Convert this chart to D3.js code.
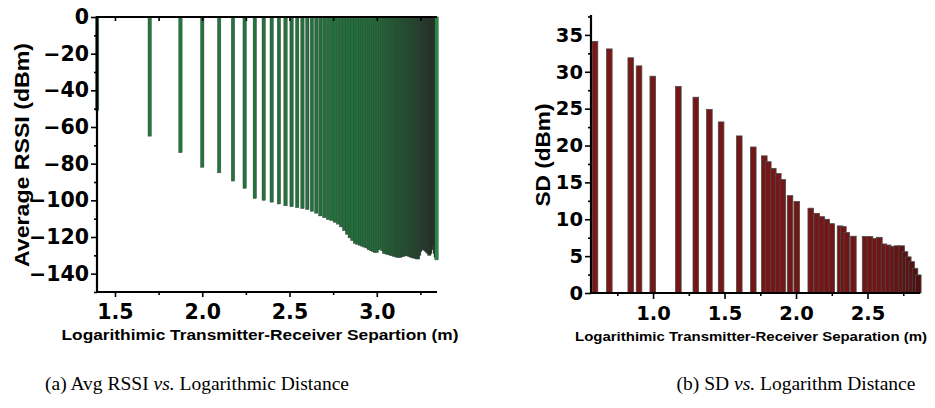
<!DOCTYPE html>
<html>
<head>
<meta charset="utf-8">
<script src="https://cdn.jsdelivr.net/npm/d3@7"></script>
<style>
  body { margin: 0; background: #fff; }
  svg { display: block; }
  .tk text { font-family: "DejaVu Sans", sans-serif; font-weight: bold; fill: #000; }
  .tk line { stroke: #000; stroke-width: 1.6; }
  .tk path { display: none; }
  .ttl { font-family: "Liberation Sans", Arial, sans-serif; font-weight: bold; }
</style>
</head>
<body>
<svg id="fig" width="935" height="408"></svg>
<script>
// (a) separation distances (m) and average RSSI (dBm)
var rssiDist = [25,50,75,100,125,150,175,200,225,250,275,300,325,350,375,400,425,450,475,500,
  525,550,575,600,625,650,675,700,725,750,775,800,825,850,875,900,925,950,975,1000,
  1025,1050,1075,1100,1125,1150,1175,1200,1225,1250,1275,1300,1325,1350,1375,1400,1425,1450,1475,1500,
  1525,1550,1575,1600,1625,1650,1675,1700,1725,1750,1775,1800,1825,1850,1875,1900,1925,1950,1975,2000,
  2025,2050,2075,2100,2125,2150,2175,2200];
var rssiVal = [-51,-65,-74,-82,-85,-89.5,-93.5,-99,-100,-101,-102,-103,-103.5,-104,-104.5,-105,-106,-107,-108.5,-109.5,
  -110.5,-111,-112,-113,-114.5,-116.5,-118.5,-120.5,-122,-123.5,-124,-124.5,-125,-125.5,-126,-127,-127.5,-128,-128.5,-128.5,
  -127,-126,-127.5,-129,-129,-129.5,-129.5,-130,-130,-130.5,-130.5,-131,-131,-131,-131,-130.5,-130.5,-130,-130,-130,
  -130.5,-130.5,-131,-131,-131.5,-131.5,-131.5,-132,-132,-130,-128,-127,-126.5,-127,-127,-127.5,-128,-128.5,-129,-130,
  -129,-127,-124,-122,-125,-129,-131,-132.5];
var rssiTicksX = [1.5, 2.0, 2.5, 3.0];
var rssiTicksY = [0, -20, -40, -60, -80, -100, -120, -140];

// (b) log separation and standard deviation (dBm)
var sdLogDist = [0.594,0.694,0.844,0.902,0.998,1.177,1.299,1.394,1.476,1.603,1.701,1.778,1.806,1.841,1.876,1.907,1.958,2.005,
  2.103,2.145,2.180,2.215,2.250,2.308,2.331,2.355,2.401,2.483,2.517,2.552,2.583,2.615,2.645,2.676,2.704,2.739,2.762,2.785,2.809,2.832,2.855];
var sdVal = [34.1,33.1,31.9,30.8,29.4,28.0,26.55,24.9,23.2,21.3,19.8,18.6,17.8,16.9,16.2,15.4,13.2,12.4,
  11.5,10.8,10.35,10.0,9.4,9.1,9.0,8.2,7.7,7.65,7.65,7.4,7.55,6.65,6.5,6.3,6.4,6.4,5.6,4.9,4.25,3.35,2.45];
var sdTicksX = [1.0, 1.5, 2.0, 2.5];
var sdTicksY = [0, 5, 10, 15, 20, 25, 30, 35];

var svg = d3.select("#fig");

// ---------- (a) ----------
var xL = d3.scaleLinear().domain([1.397, 3.345]).range([97, 437]);
var yL = d3.scaleLinear().domain([-150, 0]).range([292, 17]);
var colL = d3.scaleLinear().domain([1.4, 3.0, 3.2, 3.33])
  .range(["#237a3f", "#216f3a", "#1e4f2c", "#1a2b1f"]);

var gA = svg.append("g");
var rssi = rssiDist.map(function(d, i) { return { x: Math.log10(d), v: rssiVal[i], i: i }; });

gA.selectAll("rect.bar").data(rssi).enter().append("rect")
  .attr("class", "bar")
  .attr("x", function(d) { return xL(d.x) - 1.7; })
  .attr("width", 3.4)
  .attr("y", yL(0))
  .attr("height", function(d) { return yL(d.v) - yL(0); })
  .attr("fill", function(d) { return d.i == rssi.length - 1 ? "#248a44" : colL(d.x); })
  .attr("stroke", "#3a3a3a")
  .attr("stroke-width", 0.4);

// bottom axis
gA.append("g").attr("class", "tk").attr("transform", "translate(0,292)")
  .style("font-size", "20.5px")
  .call(d3.axisBottom(xL).tickValues(rssiTicksX).tickSize(5).tickPadding(7).tickFormat(d3.format(".1f")));
gA.append("g").attr("class", "tk").attr("transform", "translate(0,292)")
  .call(d3.axisBottom(xL).tickValues([1.75, 2.25, 2.75, 3.25]).tickSize(3).tickFormat(""));
// top mirror ticks
gA.append("g").attr("class", "tk").attr("transform", "translate(0,17)")
  .call(d3.axisBottom(xL).tickValues([1.5, 1.75, 2, 2.25, 2.5, 2.75, 3, 3.25]).tickSize(4).tickFormat(""));
// left axis
gA.append("g").attr("class", "tk").attr("transform", "translate(97,0)")
  .style("font-size", "20.5px")
  .call(d3.axisLeft(yL).tickValues(rssiTicksY).tickSize(6).tickPadding(2)
    .tickFormat(function(d) { return d == 0 ? "0" : "\u2212" + Math.abs(d); }));
gA.append("g").attr("class", "tk").attr("transform", "translate(97,0)")
  .call(d3.axisLeft(yL).tickValues([-10, -30, -50, -70, -90, -110, -130, -150]).tickSize(3).tickFormat(""));

gA.append("line").attr("x1", 97).attr("x2", 97).attr("y1", 16).attr("y2", 293)
  .attr("stroke", "#000").attr("stroke-width", 2.2);
gA.append("line").attr("x1", 96).attr("x2", 437).attr("y1", 292).attr("y2", 292)
  .attr("stroke", "#000").attr("stroke-width", 2.2);
gA.append("line").attr("x1", 96).attr("x2", 437).attr("y1", 17).attr("y2", 17)
  .attr("stroke", "#000").attr("stroke-width", 2.2);

gA.append("text").attr("class", "ttl")
  .attr("transform", "translate(29,155) rotate(-90)")
  .attr("text-anchor", "middle")
  .attr("textLength", 224).attr("lengthAdjust", "spacingAndGlyphs")
  .style("font-size", "21px")
  .text("Average RSSI (dBm)");
gA.append("text").attr("class", "ttl")
  .attr("x", 260).attr("y", 340)
  .attr("text-anchor", "middle")
  .attr("textLength", 397).attr("lengthAdjust", "spacingAndGlyphs")
  .style("font-size", "14.3px")
  .text("Logarithimic Transmitter-Receiver Separtion (m)");

// ---------- (b) ----------
var xR = d3.scaleLinear().domain([0.566, 2.867]).range([591, 920]);
var yR = d3.scaleLinear().domain([0, 37.7]).range([293, 15]);
var colR = d3.scaleLinear().domain([0.5, 2.6, 2.87]).range(["#7b1717", "#731515", "#4e1010"]);

var gB = svg.append("g");
var sd = sdLogDist.map(function(d, i) { return { x: d, v: sdVal[i] }; });

gB.selectAll("rect.bar").data(sd).enter().append("rect")
  .attr("class", "bar")
  .attr("x", function(d) { return xR(d.x) - 2.8; })
  .attr("width", 5.6)
  .attr("y", function(d) { return yR(d.v); })
  .attr("height", function(d) { return yR(0) - yR(d.v); })
  .attr("fill", function(d) { return colR(d.x); })
  .attr("stroke", "#4a4a4a")
  .attr("stroke-width", 0.8);

gB.append("g").attr("class", "tk").attr("transform", "translate(0,293)")
  .style("font-size", "19.5px")
  .call(d3.axisBottom(xR).tickValues(sdTicksX).tickSize(6).tickPadding(7).tickFormat(d3.format(".1f")));
gB.append("g").attr("class", "tk").attr("transform", "translate(0,293)")
  .call(d3.axisBottom(xR).tickValues([0.75, 1.25, 1.75, 2.25, 2.75]).tickSize(3).tickFormat(""));
gB.append("g").attr("class", "tk").attr("transform", "translate(591,0)")
  .style("font-size", "19.5px")
  .call(d3.axisLeft(yR).tickValues(sdTicksY).tickSize(6).tickPadding(2));
gB.append("g").attr("class", "tk").attr("transform", "translate(591,0)")
  .call(d3.axisLeft(yR).tickValues([2.5, 7.5, 12.5, 17.5, 22.5, 27.5, 32.5, 37.5]).tickSize(3).tickFormat(""));

gB.append("line").attr("x1", 591).attr("x2", 591).attr("y1", 15).attr("y2", 294)
  .attr("stroke", "#000").attr("stroke-width", 2.2);
gB.append("line").attr("x1", 590).attr("x2", 920).attr("y1", 293).attr("y2", 293)
  .attr("stroke", "#000").attr("stroke-width", 2.2);

gB.append("text").attr("class", "ttl")
  .attr("transform", "translate(550,155) rotate(-90)")
  .attr("text-anchor", "middle")
  .attr("textLength", 103).attr("lengthAdjust", "spacingAndGlyphs")
  .style("font-size", "20px")
  .text("SD (dBm)");
gB.append("text").attr("class", "ttl")
  .attr("x", 751).attr("y", 341)
  .attr("text-anchor", "middle")
  .attr("textLength", 352).attr("lengthAdjust", "spacingAndGlyphs")
  .style("font-size", "12.6px")
  .text("Logarithimic Transmitter-Receiver Separation (m)");

// ---------- captions ----------
function caption(x, parts) {
  var t = svg.append("text").attr("x", x).attr("y", 390).attr("text-anchor", "middle")
    .style("font-family", "Liberation Serif, Times New Roman, serif").style("font-size", "19.5px");
  parts.forEach(function(p) {
    t.append("tspan").style("font-style", p[1] ? "italic" : "normal").text(p[0]);
  });
}
caption(197, [["(a) Avg RSSI ", false], ["vs.", true], [" Logarithmic Distance", false]]);
caption(796, [["(b) SD ", false], ["vs.", true], [" Logarithm Distance", false]]);
</script>
</body>
</html>
